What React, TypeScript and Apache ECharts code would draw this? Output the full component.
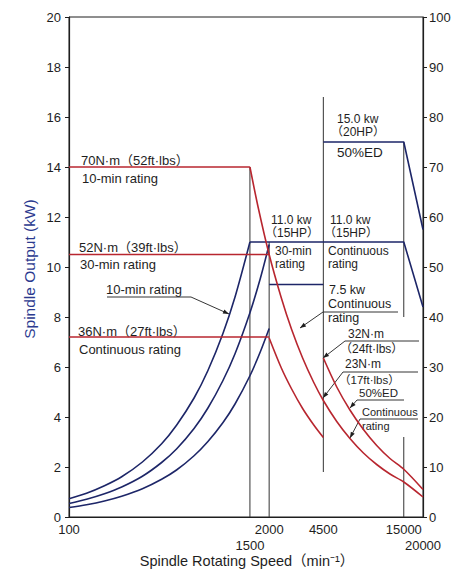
import React, { useEffect, useRef } from "react";
import * as echarts from "echarts";

// ---- Data (x = spindle speed in min^-1, y = kW for power, N·m for torque) ----
const xTickUpperRow = [100, 2000, 4500, 15000];
const xTickLowerRow = [1500, 20000];

// Power curves (left axis, kW)
const power10minRise: [number, number][] = [[100, 0.73], [130, 0.95], [170, 1.25], [220, 1.61], [300, 2.2], [400, 2.93], [500, 3.67], [650, 4.76], [800, 5.86], [1000, 7.33], [1200, 8.8], [1500, 11.0]];
const power30minRise: [number, number][] = [[100, 0.54], [130, 0.71], [170, 0.93], [220, 1.2], [300, 1.63], [400, 2.18], [500, 2.72], [650, 3.54], [800, 4.36], [1000, 5.45], [1200, 6.53], [1500, 8.17], [1750, 9.53], [2000, 10.9]];
const powerContRise: [number, number][] = [[100, 0.38], [130, 0.49], [170, 0.64], [220, 0.83], [300, 1.13], [400, 1.51], [500, 1.88], [650, 2.45], [800, 3.02], [1000, 3.77], [1200, 4.52], [1500, 5.65], [1750, 6.6], [2000, 7.54]];
const power11kwFlat: [number, number][] = [[1500, 11.0], [15000, 11.0], [20000, 8.4]];
const power15kwFlat: [number, number][] = [[4500, 15.0], [15000, 15.0], [20000, 11.5]];
const power30minBoxBottom: [number, number][] = [[2000, 9.3], [4500, 9.3]];

// Torque curves (right axis, N·m)
const torque10minFlat: [number, number][] = [[100, 70], [1500, 70]];
const torque30minFlat: [number, number][] = [[100, 52.5], [2000, 52.5]];
const torqueContFlat: [number, number][] = [[100, 36], [2000, 36]];
const torque11kwFall: [number, number][] = [[1500, 70], [1700, 61.8], [2000, 52.5], [2400, 43.8], [2800, 37.5], [3300, 31.8], [3900, 26.9], [4500, 23.3], [5500, 19.1], [6700, 15.7], [8200, 12.8], [10000, 10.5], [12200, 8.6], [15000, 7.0], [20000, 4.0]];
const torque7kwFall: [number, number][] = [[2000, 35.8], [2400, 29.8], [2800, 25.6], [3300, 21.7], [3900, 18.4], [4500, 15.9]];
const torque15kwFall: [number, number][] = [[4500, 31.8], [5500, 26.0], [6700, 21.4], [8200, 17.5], [10000, 14.3], [12200, 11.7], [15000, 9.55], [20000, 5.5]];

// Vertical guide lines (kW axis)
const guideLines: [number, number][][] = [
  [[1500, 0], [1500, 14]],
  [[2000, 0], [2000, 11]],
  [[4500, 1.8], [4500, 16.8]],
  [[15000, 8.0], [15000, 15]],
  [[15000, 0], [15000, 3.2]],
];

const BLUE = "#1d2668";
const RED = "#b8262f";
const INK = "#1e1e1e";
const FONT = "'Liberation Sans', Arial, 'Noto Sans CJK JP', sans-serif";

const lx = (n: number) => Math.log10(n);
const tx = (pts: [number, number][]) => pts.map(([a, b]) => [lx(a), b]);

function lineSeries(pts: [number, number][], color: string, yAxisIndex: number, smooth: number | boolean = false, width = 1.6, z = 3) {
  return {
    type: "line",
    data: tx(pts),
    xAxisIndex: 0,
    yAxisIndex,
    smooth,
    showSymbol: false,
    symbol: "none",
    silent: true,
    z,
    lineStyle: { color, width },
  };
}

function txt(text: string, x: number, y: number, size = 12, extra: any = {}) {
  return {
    type: "text",
    x,
    y,
    silent: true,
    style: { text, fill: INK, font: `${size}px ${FONT}`, verticalAlign: "middle", align: "left", ...extra },
  };
}

function leader(points: number[][]) {
  const els: any[] = [];
  els.push({ type: "polyline", silent: true, shape: { points }, style: { stroke: INK, lineWidth: 0.9, fill: null } });
  const [x1, y1] = points[points.length - 2];
  const [x2, y2] = points[points.length - 1];
  const dx = x2 - x1, dy = y2 - y1;
  const L = Math.hypot(dx, dy) || 1;
  const ux = dx / L, uy = dy / L;
  const len = 6, hw = 2.2;
  const bx = x2 - ux * len, by = y2 - uy * len;
  els.push({
    type: "polygon",
    silent: true,
    shape: { points: [[x2, y2], [bx - uy * hw, by + ux * hw], [bx + uy * hw, by - ux * hw]] },
    style: { fill: INK },
  });
  return els;
}

function underline(x1: number, x2: number, y: number) {
  return { type: "line", silent: true, shape: { x1, y1: y, x2, y2: y }, style: { stroke: INK, lineWidth: 0.9 } };
}

export default function App() {
  const ref = useRef<HTMLDivElement>(null);
  useEffect(() => {
    if (!ref.current) return;
    const chart = echarts.init(ref.current, null, { renderer: "svg" });
    const series: any[] = [];
    guideLines.forEach((g) => series.push(lineSeries(g, "#333", 0, false, 1, 2)));
    series.push(lineSeries(power10minRise, BLUE, 0, 0.3));
    series.push(lineSeries(power30minRise, BLUE, 0, 0.3));
    series.push(lineSeries(powerContRise, BLUE, 0, 0.3));
    series.push(lineSeries(power11kwFlat, BLUE, 0));
    series.push(lineSeries(power15kwFlat, BLUE, 0));
    series.push(lineSeries(power30minBoxBottom, BLUE, 0));
    series.push(lineSeries(torque10minFlat, RED, 1));
    series.push(lineSeries(torque30minFlat, RED, 1));
    series.push(lineSeries(torqueContFlat, RED, 1));
    series.push(lineSeries(torque11kwFall, RED, 1, 0.3));
    series.push(lineSeries(torque7kwFall, RED, 1, 0.3));
    series.push(lineSeries(torque15kwFall, RED, 1, 0.3));

    const graphics: any[] = [
      txt("70N·m（52ft·lbs）", 81, 160, 13),
      txt("10-min rating", 82, 178, 13),
      txt("52N·m（39ft·lbs）", 79, 247, 13),
      txt("30-min rating", 80, 264, 13),
      txt("10-min rating", 106, 289, 13),
      txt("36N·m（27ft·lbs）", 78, 331, 13),
      txt("Continuous rating", 79, 349, 13),
      txt("15.0 kw", 337, 119, 12),
      txt("（20HP）", 331, 132, 12),
      txt("50%ED", 337, 152, 13.5),
      txt("11.0 kw", 271, 220, 12),
      txt("（15HP）", 265, 233, 12),
      txt("30-min", 275, 251, 12),
      txt("rating", 275, 264, 12),
      txt("11.0 kw", 330, 220, 12),
      txt("（15HP）", 324, 233, 12),
      txt("Continuous", 328, 251, 12),
      txt("rating", 328, 264, 12),
      txt("7.5 kw", 329, 290, 12.5),
      txt("Continuous", 328, 304, 12.5),
      txt("rating", 328, 318, 12.5),
      txt("32N·m", 348, 334, 12),
      txt("（24ft·lbs）", 340, 349, 12),
      txt("23N·m", 345, 364, 12),
      txt("（17ft·lbs）", 339, 380, 11.5),
      txt("50%ED", 359, 393, 11.5),
      txt("Continuous", 362, 412, 11),
      txt("rating", 362, 426, 11),
      underline(107, 191, 297),
      ...leader([[191, 297], [229, 314]]),
      underline(323, 398, 312),
      ...leader([[323, 312], [300, 328]]),
      underline(345, 419, 341),
      ...leader([[345, 341], [323, 358]]),
      underline(343, 418, 372),
      ...leader([[343, 372], [323, 398]]),
      underline(357, 404, 400),
      ...leader([[357, 400], [350, 408]]),
      underline(360, 418, 419),
      ...leader([[360, 419], [350, 438]]),
      {
        type: "text",
        x: 29,
        y: 269,
        rotation: Math.PI / 2,
        silent: true,
        style: { text: "Spindle Output (kW)", fill: "#2b3a8f", font: `15.5px ${FONT}`, align: "center", verticalAlign: "middle" },
      },
      {
        type: "text",
        x: 247,
        y: 561,
        silent: true,
        style: { text: "Spindle Rotating Speed（min⁻¹）", fill: INK, font: `14.5px ${FONT}`, align: "center", verticalAlign: "middle" },
      },
    ];

    const axisLabelStyle = { color: INK, fontSize: 13, fontFamily: FONT };
    const xBase = {
      type: "value",
      min: lx(100),
      max: lx(20000),
      position: "bottom",
      axisTick: { show: false },
      splitLine: { show: false },
    };
    const fmt = (v: number) => String(Math.round(Math.pow(10, v) / 100) * 100);
    chart.setOption({
      animation: false,
      backgroundColor: "#ffffff",
      grid: { left: 69, right: 35, top: 17, bottom: 54, show: true, borderColor: INK, borderWidth: 1, backgroundColor: "transparent" },
      xAxis: [
        {
          ...xBase,
          axisLine: { show: true, lineStyle: { color: INK, width: 1 } },
          axisLabel: {
            ...axisLabelStyle,
            margin: 6,
            showMinLabel: true,
            showMaxLabel: true,
            customValues: xTickUpperRow.map(lx),
            formatter: fmt,
          },
        },
        {
          ...xBase,
          offset: 16,
          axisLine: { show: false },
          axisLabel: {
            ...axisLabelStyle,
            margin: 6,
            showMinLabel: true,
            showMaxLabel: true,
            customValues: xTickLowerRow.map(lx),
            formatter: fmt,
          },
        },
      ],
      yAxis: [
        {
          type: "value",
          min: 0,
          max: 20,
          interval: 2,
          position: "left",
          axisLine: { show: true, lineStyle: { color: INK, width: 1.2 } },
          axisTick: { show: true, length: 4, lineStyle: { color: INK } },
          splitLine: { show: false },
          axisLabel: { ...axisLabelStyle, margin: 8 },
        },
        {
          type: "value",
          min: 0,
          max: 100,
          interval: 10,
          position: "right",
          axisLine: { show: true, lineStyle: { color: INK, width: 1.2 } },
          axisTick: { show: true, length: 4, lineStyle: { color: INK } },
          splitLine: { show: false },
          axisLabel: { ...axisLabelStyle, margin: 6 },
        },
      ],
      series,
      graphic: graphics,
    });
    return () => chart.dispose();
  }, []);
  return <div ref={ref} style={{ position: "fixed", left: 0, top: 0, width: 458, height: 571 }} />;
}
